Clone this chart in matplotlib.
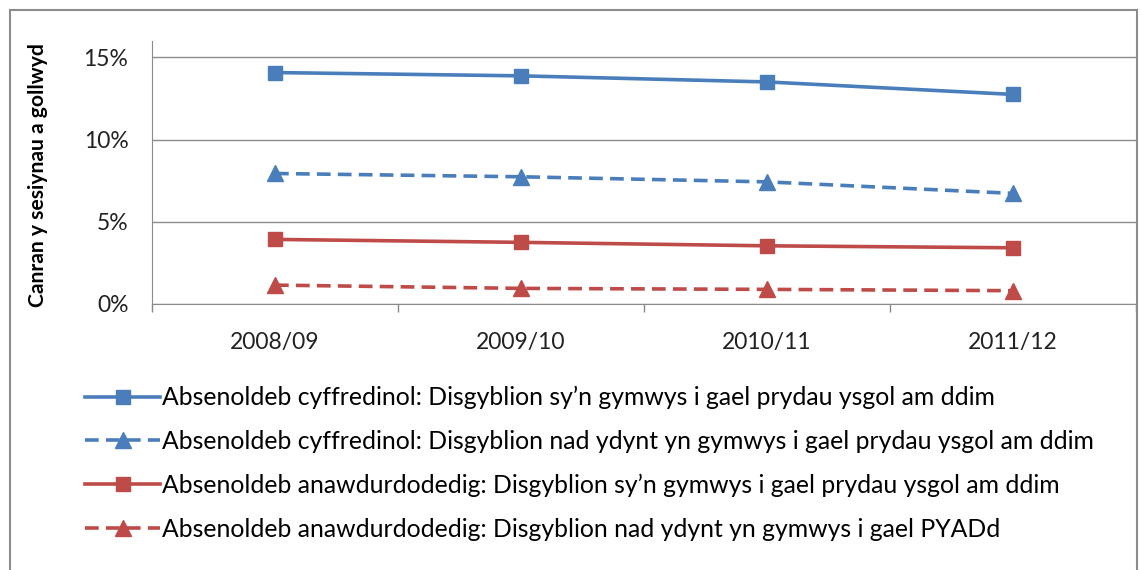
import matplotlib
matplotlib.use("Agg")
import matplotlib.pyplot as plt
from matplotlib.patches import Rectangle
from matplotlib.ticker import FuncFormatter, FixedLocator

plt.rcParams['font.family'] = ['Lato', 'DejaVu Sans']

blwyddyn = ["2008/09", "2009/10", "2010/11", "2011/12"]
cyff_pyd = [14.08, 13.88, 13.51, 12.75]
cyff_nad = [7.94, 7.74, 7.43, 6.73]
anaw_pyd = [3.93, 3.75, 3.54, 3.42]
anaw_nad = [1.15, 0.95, 0.89, 0.81]

labels = ["Absenoldeb cyffredinol: Disgyblion sy\u2019n gymwys i gael prydau ysgol am ddim",
          "Absenoldeb cyffredinol: Disgyblion nad ydynt yn gymwys i gael prydau ysgol am ddim",
          "Absenoldeb anawdurdodedig: Disgyblion sy\u2019n gymwys i gael prydau ysgol am ddim",
          "Absenoldeb anawdurdodedig: Disgyblion nad ydynt yn gymwys i gael PYADd"]

glas = "#4A7EBB"
coch = "#BE4B48"
fs = 16.5

fig = plt.figure(figsize=(11.41, 5.70), dpi=100)
fig.patches.append(Rectangle((10/1141, -0.05), 1127/1141, 1.05 - 10/570, transform=fig.transFigure,
                             fill=False, edgecolor="#8c8c8c", linewidth=1.5))
ax = fig.add_axes([152/1141, 1 - 304/570, 984/1141, 263/570])

x = range(len(blwyddyn))
l1, = ax.plot(x, cyff_pyd, color=glas, lw=2.6, marker='s', ms=10.5, label=labels[0])
l2, = ax.plot(x, cyff_nad, color=glas, lw=2.6, ls=(0, (3.8, 2)), marker='^', ms=12, label=labels[1])
l3, = ax.plot(x, anaw_pyd, color=coch, lw=2.6, marker='s', ms=10.5, label=labels[2])
l4, = ax.plot(x, anaw_nad, color=coch, lw=2.6, ls=(0, (3.8, 2)), marker='^', ms=12, label=labels[3])

ax.set_xlim(-0.5, 3.5)
ax.set_ylim(0, 16)
ax.set_yticks([0, 5, 10, 15])
ax.yaxis.set_major_formatter(FuncFormatter(lambda v, p: "%d%%" % v))
ax.set_xticks(list(x))
ax.set_xticklabels(blwyddyn)
ax.tick_params(axis='x', which='major', length=0, pad=20, labelsize=fs, colors='#222222')
ax.xaxis.set_minor_locator(FixedLocator([-0.5, 0.5, 1.5, 2.5, 3.5]))
ax.tick_params(axis='x', which='minor', length=6, color='#888888', width=1)
ax.tick_params(axis='y', length=0, pad=17, labelsize=fs, colors='#222222')
ax.grid(axis='y', color='#8c8c8c', lw=1)
ax.set_axisbelow(True)
for s in ['top', 'right']:
    ax.spines[s].set_visible(False)
ax.spines['left'].set_color('#8c8c8c')
ax.spines['bottom'].set_color('#8c8c8c')

ax.set_ylabel("Canran y sesiynau a gollwyd", fontsize=15.2, fontweight='bold')
ax.yaxis.set_label_coords(-0.106, 0.49)

fig.legend(handles=[l1, l2, l3, l4], loc='upper left', bbox_to_anchor=(75/1141, 1 - 376/570),
           frameon=False, fontsize=17.8, handlelength=3.05, handletextpad=0.08,
           labelspacing=0.84, numpoints=1, borderaxespad=0)

fig.savefig("out.png", dpi=100)
